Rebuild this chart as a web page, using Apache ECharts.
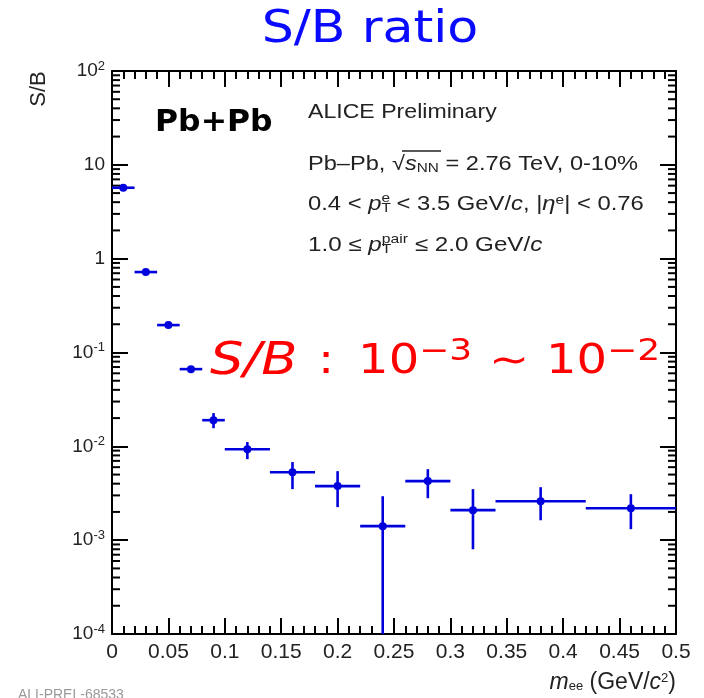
<!DOCTYPE html>
<html>
<head>
<meta charset="utf-8">
<script src="https://cdn.jsdelivr.net/npm/echarts@6/dist/echarts.min.js"></script>
<style>
  html, body { margin: 0; padding: 0; background: #ffffff; }
  #chart { width: 704px; height: 698px; }
</style>
</head>
<body>
<div id="chart"></div>
<script>
// Invariant-mass bins (GeV/c^2): edges and centres
const binLow    = [0.00, 0.02, 0.04, 0.06, 0.08, 0.10, 0.14, 0.18, 0.22, 0.26, 0.30, 0.34, 0.42];
const binHigh   = [0.02, 0.04, 0.06, 0.08, 0.10, 0.14, 0.18, 0.22, 0.26, 0.30, 0.34, 0.42, 0.50];
const binCenter = [0.01, 0.03, 0.05, 0.07, 0.09, 0.12, 0.16, 0.20, 0.24, 0.28, 0.32, 0.38, 0.46];

// Signal-to-background ratio with lower / upper statistical error edges
const sbValue = [5.7, 0.72, 0.196, 0.0665, 0.0190, 0.0093, 0.0053, 0.00377, 0.00141, 0.00426, 0.00209, 0.00260, 0.00219];
const sbLow   = [5.5, 0.70, 0.190, 0.0640, 0.0156, 0.0073, 0.0035, 0.00225, 0.00005, 0.00280, 0.00080, 0.00163, 0.00131];
const sbHigh  = [5.9, 0.74, 0.202, 0.0690, 0.0226, 0.0111, 0.0068, 0.00544, 0.00294, 0.00571, 0.00350, 0.00367, 0.00309];

// Axis tick labels
const xTickLabels = ['0', '0.05', '0.1', '0.15', '0.2', '0.25', '0.3', '0.35', '0.4', '0.45', '0.5'];
const yDecadeExp  = [-4, -3, -2, -1, 0, 1, 2];
const yTickLabels = ['10{sup|-4}', '10{sup|-3}', '10{sup|-2}', '10{sup|-1}', '1', '10', '10{sup|2}'];

const BLUE = '#0000dd';
const AXIS = '#000000';
const INK = '#222222';
const LABEL_FONT = 'Liberation Sans';

// points: [xLow, xHigh, xCentre, y, yLow, yHigh]
const points = binCenter.map((c, i) => [binLow[i], binHigh[i], c, sbValue[i], sbLow[i], sbHigh[i]]);

// log-axis minor tick positions: 2..9 inside every decade of the y range
const minorTickVals = [];
for (let e = yDecadeExp[0]; e < yDecadeExp[yDecadeExp.length - 1]; e++) {
  for (let k = 2; k <= 9; k++) minorTickVals.push([0, k * Math.pow(10, e)]);
}

function renderPoint(params, api) {
  const y = api.value(3);
  const a = api.coord([api.value(0), y]);
  const b = api.coord([api.value(1), y]);
  const c = api.coord([api.value(2), y]);
  const lo = api.coord([api.value(2), api.value(4)]);
  const hi = api.coord([api.value(2), api.value(5)]);
  const st = { stroke: BLUE, lineWidth: 2.6 };
  return {
    type: 'group',
    children: [
      { type: 'line', shape: { x1: a[0], y1: a[1], x2: b[0], y2: b[1] }, style: st },
      { type: 'line', shape: { x1: lo[0], y1: lo[1], x2: hi[0], y2: hi[1] }, style: st },
      { type: 'circle', shape: { cx: c[0], cy: c[1], r: 4 }, style: { fill: BLUE } }
    ]
  };
}

function renderMinorTick(params, api) {
  const p = api.coord([0, api.value(1)]);
  const cs = params.coordSys;
  const st = { stroke: AXIS, lineWidth: 2 };
  return {
    type: 'group',
    children: [
      { type: 'line', shape: { x1: cs.x, y1: p[1], x2: cs.x + 8, y2: p[1] }, style: st },
      { type: 'line', shape: { x1: cs.x + cs.width - 8, y1: p[1], x2: cs.x + cs.width, y2: p[1] }, style: st }
    ]
  };
}

function xLabel(v) {
  return xTickLabels[Math.round(v / 0.05)] ?? '';
}
function yLabel(v) {
  const e = Math.round(Math.log10(v));
  const i = yDecadeExp.indexOf(e);
  return i >= 0 ? yTickLabels[i] : '';
}

// rich-text styles shared by the physics annotations
function physRich(size) {
  return {
    it: { fontStyle: 'italic', fontFamily: LABEL_FONT, fontSize: size, fill: INK },
    sub: { fontFamily: LABEL_FONT, fontSize: 13, fill: INK, padding: [10, 0, 0, 0], verticalAlign: 'top' },
    subs: { fontFamily: LABEL_FONT, fontSize: 13, fill: INK, padding: [8, 0, 0, 0], verticalAlign: 'top' },
    sup: { fontFamily: LABEL_FONT, fontSize: 13, fill: INK, padding: [0, 0, 12, -8], verticalAlign: 'bottom' },
    sup2: { fontFamily: LABEL_FONT, fontSize: 13, fill: INK, padding: [0, 0, 10, 0], verticalAlign: 'bottom' }
  };
}

const chart = echarts.init(document.getElementById('chart'), null, { renderer: 'canvas' });

const xCommon = {
  type: 'value', min: 0, max: 0.5, interval: 0.05,
  axisLine: { show: true, onZero: false, lineStyle: { color: AXIS, width: 2 } },
  axisTick: { show: true, inside: true, length: 16, lineStyle: { color: AXIS, width: 2 } },
  minorTick: { show: true, splitNumber: 5, length: 8, lineStyle: { color: AXIS, width: 2 } },
  splitLine: { show: false }, minorSplitLine: { show: false }
};
const yCommon = {
  type: 'log', logBase: 10, min: 1e-4, max: 100, splitNumber: 6,
  axisLine: { show: true, onZero: false, lineStyle: { color: AXIS, width: 2 } },
  axisTick: { show: true, inside: true, length: 16, lineStyle: { color: AXIS, width: 2 } },
  minorTick: { show: false },
  splitLine: { show: false }
};

chart.setOption({
  animation: false,
  backgroundColor: '#ffffff',
  grid: { left: 112, right: 28, top: 71, bottom: 64, containLabel: false, outerBoundsMode: 'none' },
  xAxis: [
    Object.assign({}, xCommon, {
      position: 'bottom',
      axisLabel: {
        show: true, margin: 8, fontSize: 21, fontFamily: LABEL_FONT, color: INK,
        showMinLabel: true, showMaxLabel: true, hideOverlap: false,
        formatter: xLabel
      }
    }),
    Object.assign({}, xCommon, { position: 'top', axisLabel: { show: false } })
  ],
  yAxis: [
    Object.assign({}, yCommon, {
      position: 'left',
      axisLabel: {
        show: true, margin: 7, fontSize: 19, fontFamily: LABEL_FONT, color: INK,
        showMinLabel: true, showMaxLabel: true, hideOverlap: false,
        formatter: yLabel,
        rich: {
          sup: { fontSize: 13, fontFamily: LABEL_FONT, color: INK, padding: [0, 0, 10, 0], verticalAlign: 'bottom' }
        }
      }
    }),
    Object.assign({}, yCommon, { position: 'right', axisLabel: { show: false } })
  ],
  series: [
    {
      type: 'custom', name: 'minor ticks', silent: true, clip: false,
      renderItem: renderMinorTick,
      encode: { x: 0, y: 1 },
      data: minorTickVals, z: 1
    },
    {
      type: 'custom', name: 'S/B', clip: true,
      renderItem: renderPoint,
      encode: { x: [0, 1, 2], y: [3, 4, 5] },
      data: points, z: 5
    }
  ],
  graphic: [
    {
      type: 'text', x: 370, y: 31, scaleX: 1.15,
      style: { text: 'S/B ratio', fontFamily: 'DejaVu Sans', fontSize: 44, fill: '#0a0aff', textAlign: 'center', textVerticalAlign: 'middle' }
    },
    {
      type: 'text', x: 39, y: 89, rotation: Math.PI / 2,
      style: { text: 'S/B', fontFamily: LABEL_FONT, fontSize: 22, fill: INK, textAlign: 'center', textVerticalAlign: 'middle' }
    },
    {
      type: 'text', x: 155, y: 123, scaleX: 1.05,
      style: { text: 'Pb+Pb', fontFamily: 'DejaVu Sans', fontWeight: 'bold', fontSize: 30, fill: '#000', textAlign: 'left', textVerticalAlign: 'middle' }
    },
    {
      type: 'text', x: 308, y: 112, scaleX: 1.1,
      style: { text: 'ALICE Preliminary', fontFamily: LABEL_FONT, fontSize: 21, fill: INK, textAlign: 'left', textVerticalAlign: 'middle' }
    },
    {
      type: 'text', x: 308, y: 164, scaleX: 1.18,
      style: {
        text: 'Pb–Pb, √{it|s}{subs|NN} = 2.76 TeV, 0-10%',
        fontFamily: LABEL_FONT, fontSize: 20, fill: INK, textAlign: 'left', textVerticalAlign: 'middle',
        rich: physRich(20)
      }
    },
    {
      // overline of the square root over s_NN
      type: 'line', shape: { x1: 402, y1: 151, x2: 441, y2: 151 },
      style: { stroke: INK, lineWidth: 1.3 }
    },
    {
      type: 'text', x: 308, y: 204, scaleX: 1.19,
      style: {
        text: '0.4 < {it|p}{sub|T}{sup|e} < 3.5 GeV/{it|c}, |{it|η}{sup2|e}| < 0.76',
        fontFamily: LABEL_FONT, fontSize: 20, fill: INK, textAlign: 'left', textVerticalAlign: 'middle',
        rich: physRich(20)
      }
    },
    {
      type: 'text', x: 308, y: 245, scaleX: 1.21,
      style: {
        text: '1.0 ≤ {it|p}{sub|T}{sup|pair} ≤ 2.0 GeV/{it|c}',
        fontFamily: LABEL_FONT, fontSize: 20, fill: INK, textAlign: 'left', textVerticalAlign: 'middle',
        rich: physRich(20)
      }
    },
    {
      type: 'text', x: 210, y: 363, scaleX: 1.2,
      style: {
        text: '{it|S/B}{op|:}{n|10}{sup|−3}{tl|∼}{n|10}{sup|−2}',
        fontFamily: 'DejaVu Sans', fontSize: 40, fill: '#ff0000', textAlign: 'left', textVerticalAlign: 'middle',
        rich: {
          it: { fontStyle: 'italic', fontFamily: 'DejaVu Sans', fontSize: 44, fill: '#ff0000' },
          op: { fontFamily: 'DejaVu Sans', fontSize: 40, fill: '#ff0000', padding: [0, 20, 0, 17] },
          n: { fontFamily: 'DejaVu Sans', fontSize: 40, fill: '#ff0000' },
          tl: { fontFamily: 'DejaVu Sans', fontSize: 40, fill: '#ff0000', padding: [0, 14, 0, 14] },
          sup: { fontFamily: 'DejaVu Sans', fontSize: 30, fill: '#ff0000', padding: [0, 0, 22, 0], verticalAlign: 'bottom' }
        }
      }
    },
    {
      type: 'text', x: 676, y: 683,
      style: {
        text: '{it|m}{subs|ee} (GeV/{it|c}{sup2|2})',
        fontFamily: LABEL_FONT, fontSize: 23, fill: INK, textAlign: 'right', textVerticalAlign: 'middle',
        rich: physRich(23)
      }
    },
    {
      type: 'text', x: 18, y: 695,
      style: { text: 'ALI-PREL-68533', fontFamily: LABEL_FONT, fontSize: 14, fill: '#9a9a9a', textAlign: 'left', textVerticalAlign: 'middle' }
    }
  ]
});
</script>
</body>
</html>
